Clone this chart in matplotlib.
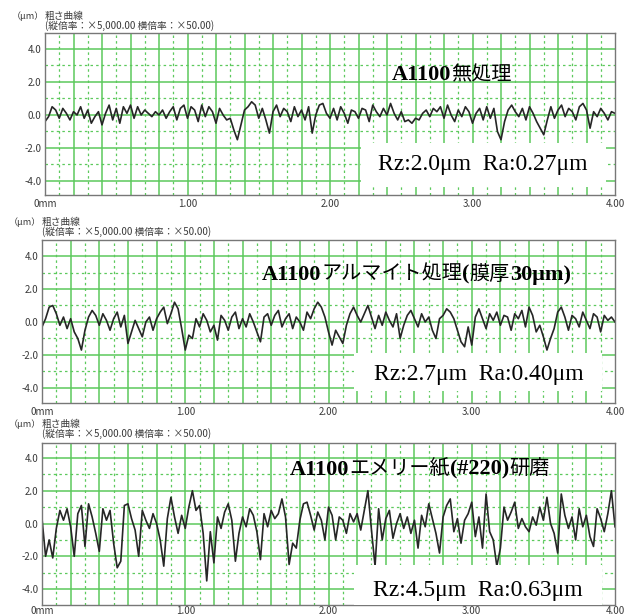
import numpy as np
import matplotlib.pyplot as plt
from matplotlib.patches import Rectangle
from matplotlib.transforms import IdentityTransform

plt.rcParams["font.family"] = ["Noto Sans CJK JP", "DejaVu Sans"]

# roughness profiles (um), sampled every 0.025 mm from 0 to 4 mm
profile_plain = [
    -0.4, -0.1, 0.5, 0.3, -0.2, 0.4, 0.1, -0.3, 0.2, 0.0,
    0.5, -0.2, 0.3, -0.5, -0.1, 0.2, -0.6, 0.1, 0.6, -0.3,
    0.4, -0.5, 0.5, 0.1, 0.6, -0.2, 0.5, 0.0, 0.3, 0.1,
    -0.1, 0.2, 0.0, 0.3, -0.2, 0.2, 0.5, -0.3, 0.4, 0.6,
    -0.2, 0.5, 0.3, -0.4, 0.6, -0.1, 0.5, 0.2, -0.5, 0.4,
    0.0, -0.3, -0.2, -0.9, -1.5, -0.6, 0.3, 0.5, 0.8, 0.6,
    -0.2, 0.4, -0.3, -1.1, 0.2, 0.6, -0.1, 0.4, 0.2, -0.4,
    0.5, -0.1, 0.3, -0.3, 0.5, -1.1, 0.0, 0.6, 0.7, 0.1,
    -0.2, 0.4, -0.3, 0.5, 0.1, -0.5, 0.3, 0.2, -0.2, 0.4,
    0.3, -0.4, 0.6, 0.2, -0.1, 0.4, 0.0, 0.7, 0.1, -0.3,
    0.2, -0.4, -0.3, -0.5, -0.2, -0.3, 0.1, 0.3, -0.1, 0.4,
    0.2, 0.5, -0.2, 0.6, 0.0, -0.4, 0.3, -0.1, 0.5, 0.2,
    -0.5, 0.1, 0.4, -0.3, 0.5, -0.2, 0.4, -1.0, -1.5, -0.4,
    0.3, 0.6, 0.2, -0.1, 0.4, -0.3, 0.5, 0.1, -0.4, -0.8,
    -1.2, -0.3, 0.5, -0.2, 0.3, 0.6, -0.1, 0.4, 0.2, -0.3,
    0.5, 0.7, 0.3, -0.8, 0.2, -0.1, 0.4, 0.1, -0.3, 0.2,
    0.1,
]

profile_alumite = [
    -0.3, 0.2, 0.9, 1.0, 0.5, -0.2, 0.3, -0.4, 0.2, -0.6,
    -1.0, -1.7, -0.5, 0.3, 0.7, 0.4, -0.2, 0.5, 0.1, -0.5,
    0.2, 0.6, -0.3, 0.4, -1.3, -0.6, 0.1, -0.4, -0.9, 0.0,
    0.3, -0.5, 0.2, 0.6, 0.9, -0.1, 0.5, 1.2, 0.8, -0.4,
    -1.7, -0.8, -1.0, 0.2, -0.3, 0.5, 0.1, -0.6, -0.2, -1.1,
    0.4, 0.1, -0.5, 0.3, 0.6, -0.4, 0.2, -0.3, 0.5, 0.0,
    -0.6, -1.2, 0.3, 0.5, -0.2, 0.4, 0.7, -0.3, 0.2, 0.5,
    -0.4, 0.3, 0.0, -0.5, 0.6, 0.2, 0.8, 1.2, 0.9, 0.3,
    -0.6, -1.4, -0.5, -0.9, -1.3, -0.2, 0.5, 0.9, 0.4, 0.0,
    0.5, 1.0, 0.3, -0.4, 0.4, -0.2, 0.6, 0.1, -0.3, 0.5,
    -1.0, -0.2, 0.4, 0.7, 0.2, -0.3, 0.5, 0.0, 0.3, -0.5,
    -1.0, 0.2, 0.4, 0.8, 0.6, 0.2, -0.5, -1.2, -1.5, -0.3,
    -1.4, 0.3, 0.8, 0.2, -0.4, 0.5, 0.1, 0.6, -0.2, 0.4,
    0.3, -0.5, 0.5, 0.2, 0.7, -0.3, 0.9, 0.4, -0.6, -0.2,
    -0.9, -1.7, -1.0, -0.4, 0.6, 0.9, 0.3, -0.5, 0.4, 0.2,
    -0.3, 0.6, 0.1, -0.4, 0.5, 0.3, -0.6, 0.4, 0.1, 0.3,
    0.0,
]

profile_emery = [
    0.3, -2.0, -1.0, -2.1, -0.3, 0.8, 0.2, 0.9, -0.2, -2.0,
    0.6, 1.1, -1.4, 1.2, 0.4, -0.6, -1.7, 0.9, 0.2, 0.8,
    -1.2, -2.7, -2.3, 1.1, 1.2, 0.3, -0.4, -2.0, 0.8, 0.2,
    -0.3, 0.6, 0.0, -1.0, -2.6, 0.3, 1.6, 0.4, -0.6, 0.5,
    -0.3, 1.0, 2.0, 0.8, 1.1, -0.6, -3.5, -0.5, -2.4, 0.4,
    -0.3, 0.7, 1.2, 0.2, -2.3, -0.6, 0.4, -0.2, 0.9, 0.5,
    -0.5, -2.2, 0.6, -0.2, 0.8, 0.3, 0.6, 1.5, 0.4, -2.5,
    -1.2, -1.5, 0.2, 1.2, 1.3, 0.5, -0.4, 0.7, 0.2, -1.0,
    1.0, 0.5, -1.0, 0.4, 0.2, -0.6, 0.6, 0.1, 0.6, -0.4,
    0.8, 2.0, -0.4, -2.6, 0.9, -1.0, 0.3, 0.8, -0.9, 0.0,
    0.6, -0.3, 0.4, -0.6, 0.2, -1.5, 0.5, -0.2, 1.2, 0.3,
    -0.6, -1.8, 0.4, 1.1, 1.5, -0.5, 0.3, -1.2, 0.2, 0.6,
    1.3, -0.8, 0.4, -1.5, 1.8, -0.5, -1.0, -2.6, -1.5, 1.0,
    0.2, 0.7, 1.3, -0.3, 0.3, -0.2, -0.5, 0.4, -0.1, 1.0,
    0.2, 1.6, 0.0, -0.6, -1.8, 1.8, 0.5, -0.3, 0.4, -1.0,
    0.9, -0.2, 0.5, -0.8, -1.4, 0.9, 0.3, -0.5, 0.6, 2.0,
    -0.2,
]

y_ticks = [4, 2, 0, -2, -4]
y_labels = ["4.0", "2.0", "0.0", "-2.0", "-4.0"]
x_ticks = [0, 1, 2, 3, 4]
x_labels = ["0mm", "1.00", "2.00", "3.00", "4.00"]

unit_label = "（μm）"
header1 = "粗さ曲線"
header2 = "(縦倍率：×5,000.00 横倍率：×50.00)"

titles = [
    [("A1100", "b"), ("無処理", "j")],
    [("A1100", "b"), ("アルマイト処理", "j"), ("(", "b"), ("膜厚", "j"), ("30μm)", "b")],
    [("A1100", "b"), ("エメリー紙", "j"), ("(#220)", "b"), ("研磨", "j")],
]
results = ["Rz:2.0μm  Ra:0.27μm", "Rz:2.7μm  Ra:0.40μm", "Rz:4.5μm  Ra:0.63μm"]

W, H = 624, 616
fig = plt.figure(figsize=(W / 100, H / 100), dpi=100)

green = "#5cc95c"
trace_col = "#262626"
label_col = "#3a3a3a"


def px_axes(left, right, top, bottom):
    return fig.add_axes([left / W, 1 - bottom / H, (right - left) / W, (bottom - top) / H])


def mixed_text(ax, x, y, parts):
    # Latin parts in bold serif, Japanese parts in regular gothic, side by side
    renderer = fig.canvas.get_renderer()
    px, py = ax.transData.transform((x, y))
    for s, kind in parts:
        if kind == "b":
            t = fig.text(px, py, s, transform=IdentityTransform(), family="Liberation Serif",
                         fontsize=16, fontweight="bold", va="baseline", ha="left", zorder=6)
        else:
            t = fig.text(px, py, s, transform=IdentityTransform(), family="Noto Sans CJK JP",
                         fontsize=14.5, va="baseline", ha="left", zorder=6)
        px += t.get_window_extent(renderer).width


# axes boxes (pixels): left, right, top, bottom, ylim
panels = [
    (45, 615, 33, 195, (-4.85, 4.97)),
    (42, 615, 240, 403, (-4.91, 4.97)),
    (42, 615, 443, 605, (-4.97, 4.91)),
]
profiles = [profile_plain, profile_alumite, profile_emery]
title_pos = [(2.435, 2.12), (1.536, 2.55), (1.73, 2.97)]
result_pos = [(3.07, -3.33), (3.05, -3.52), (3.04, -4.42)]
boxes = [(2.22, -4.36, 3.94, -1.7), (2.18, -4.18, 3.91, -1.88), (2.18, -5.2, 3.91, -2.55)]
header_y = [16, 222, 424]
xlabel_pad = [3, 3, 0.5]

for k, (l, r, t, b, ylim) in enumerate(panels):
    ax = px_axes(l, r, t, b)
    ax.set_xlim(0, 4)
    ax.set_ylim(*ylim)

    # grid: solid every 0.2 mm / 2 um, dashed in between
    for gx in np.arange(0.2, 4.0, 0.2):
        ax.axvline(gx, color=green, lw=1.1, zorder=1)
    for gx in np.arange(0.1, 4.0, 0.2):
        ax.axvline(gx, color=green, lw=0.9, ls=(0, (2, 2.5)), zorder=1)
    for gy in [-4, -2, 0, 2, 4]:
        ax.axhline(gy, color=green, lw=1.1, zorder=1)
    for gy in [-3, -1, 1, 3]:
        ax.axhline(gy, color=green, lw=0.9, ls=(0, (2, 2.5)), zorder=1)

    x = np.linspace(0, 4, len(profiles[k]))
    ax.plot(x, profiles[k], color=trace_col, lw=1.2, zorder=2)

    bx0, by0, bx1, by1 = boxes[k]
    ax.add_patch(Rectangle((bx0, by0), bx1 - bx0, by1 - by0, facecolor="white",
                           edgecolor="none", zorder=3, clip_on=True))
    ax.text(result_pos[k][0], result_pos[k][1], results[k], family="Liberation Serif",
            fontsize=17, ha="center", va="baseline", zorder=4)
    mixed_text(ax, title_pos[k][0], title_pos[k][1], titles[k])

    ax.set_yticks(y_ticks)
    ax.set_yticklabels(y_labels)
    ax.set_xticks(x_ticks)
    ax.set_xticklabels(x_labels)
    ax.tick_params(length=0, labelsize=7, labelcolor=label_col, pad=2.5)
    ax.tick_params(axis="x", pad=xlabel_pad[k])
    for sp in ax.spines.values():
        sp.set_color("#777777")
        sp.set_linewidth(1.0)

    hy = header_y[k]
    fig.text((l - 33) / W, 1 - hy / H, unit_label, fontsize=6.5, color=label_col, va="center")
    fig.text(l / W, 1 - hy / H, header1, fontsize=7, color=label_col, va="center")
    fig.text(l / W, 1 - (hy + 10) / H, header2, fontsize=7, color=label_col, va="center")

fig.savefig("out.png", dpi=100, facecolor="white")
